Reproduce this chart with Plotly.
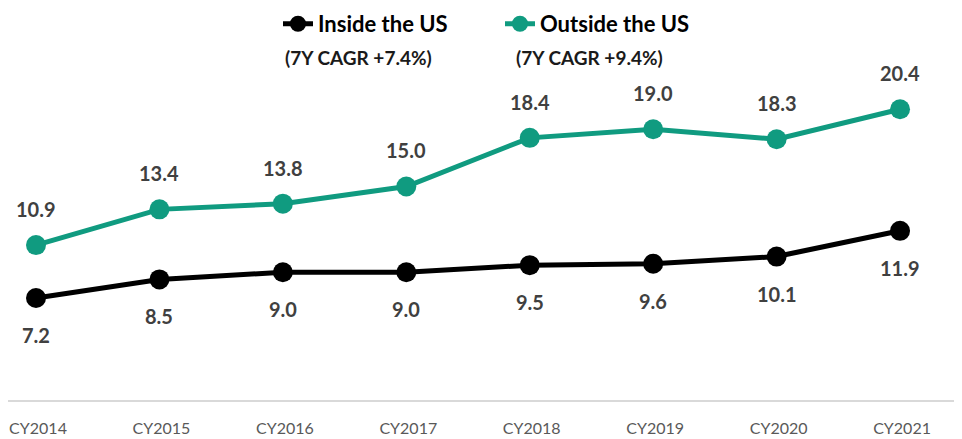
import plotly.graph_objects as go

categories = ["CY2014", "CY2015", "CY2016", "CY2017", "CY2018", "CY2019", "CY2020", "CY2021"]
inside_us = [7.2, 8.5, 9.0, 9.0, 9.5, 9.6, 10.1, 11.9]
outside_us = [10.9, 13.4, 13.8, 15.0, 18.4, 19.0, 18.3, 20.4]
series_names = ["Inside the US", "Outside the US"]
cagr_labels = ["(7Y CAGR +7.4%)", "(7Y CAGR +9.4%)"]

BLACK = "#000000"
TEAL = "#109B80"
LABEL = "#404040"
FONT = "Lato"

x = list(range(len(categories)))

fig = go.Figure()
fig.add_trace(go.Scatter(x=x, y=inside_us, name=series_names[0], mode="lines+markers",
                         line=dict(color=BLACK, width=5), marker=dict(size=20, color=BLACK)))
fig.add_trace(go.Scatter(x=x, y=outside_us, name=series_names[1], mode="lines+markers",
                         line=dict(color=TEAL, width=5), marker=dict(size=20, color=TEAL)))

for xi, v in zip(x, inside_us):
    fig.add_annotation(x=xi, y=v, text=f"<b>{v:.1f}</b>", showarrow=False, yshift=-37,
                       font=dict(family=FONT, size=20, color=LABEL))
for xi, v in zip(x, outside_us):
    fig.add_annotation(x=xi, y=v, text=f"<b>{v:.1f}</b>", showarrow=False, yshift=36,
                       font=dict(family=FONT, size=20, color=LABEL))

fig.add_annotation(x=0.367, y=0.909, xref="paper", yref="paper", text=f"<b>{cagr_labels[0]}</b>",
                   showarrow=False, font=dict(family=FONT, size=19, color="#1a1a1a"))
fig.add_annotation(x=0.610, y=0.909, xref="paper", yref="paper", text=f"<b>{cagr_labels[1]}</b>",
                   showarrow=False, font=dict(family=FONT, size=19, color="#1a1a1a"))

fig.update_layout(
    width=954, height=431,
    margin=dict(l=0, r=0, t=0, b=38, autoexpand=False),
    paper_bgcolor="white", plot_bgcolor="white",
    showlegend=True,
    legend=dict(orientation="h", x=0.283, xanchor="left", y=0.963, yanchor="middle",
                yref="container",
                font=dict(family=FONT, size=22, color="#000000", weight="bold"),
                bgcolor="rgba(0,0,0,0)", entrywidth=177, entrywidthmode="pixels",
                traceorder="normal"),
    xaxis=dict(tickmode="array", tickvals=x, ticktext=categories, range=[-0.2269, 7.502],
               showgrid=False, zeroline=False, showline=False, ticklabeloverflow="allow",
               tickfont=dict(family=FONT, size=16, color="#595959"), ticklabelstandoff=16,
               ticklabelshift=2),
    yaxis=dict(range=[0, 27.48], showgrid=False, zeroline=True, zerolinecolor="#d9d9d9",
               zerolinewidth=1.5, showticklabels=False, showline=False),
)

fig.write_html("out.html")
